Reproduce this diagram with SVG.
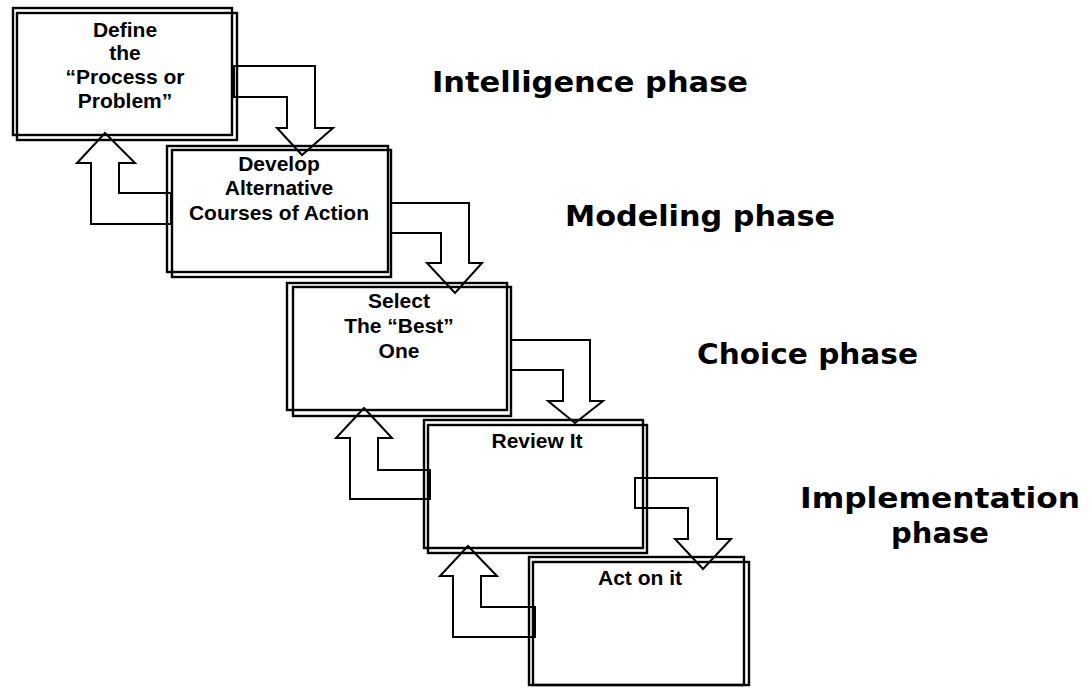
<svg xmlns="http://www.w3.org/2000/svg" width="1091" height="688" viewBox="0 0 1091 688">
<style>
.conn{fill:#fff;stroke:#000;stroke-width:2;stroke-linejoin:miter}
.frame{fill:none;stroke:#000;stroke-width:2.4}
.nt{font-family:"Liberation Sans",Arial,sans-serif;font-weight:bold;font-size:21px;text-anchor:middle;fill:#000}
.ph{font-family:"DejaVu Sans",Verdana,sans-serif;font-weight:bold;font-size:29px;fill:#000}
</style>
<rect width="1091" height="688" fill="#fff"/>
<g id="connectors">
<polygon class="conn" points="234,66 315,66 315,128 333,128 302,155 277,128 287,128 287,97 234,97"/>
<polygon class="conn" points="391,203 469,203 469,263 482,263 455,293 427,263 441,263 441,233 391,233"/>
<polygon class="conn" points="511,340 590,340 590,401 603,401 575,423 548,401 563,401 563,370 511,370"/>
<polygon class="conn" points="635,478 717,478 717,539 731,539 703,569 675,539 688,539 688,508 635,508"/>
<polygon class="conn" points="171,224 91,224 91,163 77,163 105,133 135,163 119,163 119,193 171,193"/>
<polygon class="conn" points="430,499 350,499 350,438 336,438 364,408 392,438 378,438 378,470 430,470"/>
<polygon class="conn" points="535,637 453,637 453,576 440,576 468,546 497,576 481,576 481,607 535,607"/>
</g>
<g id="node-define">
<rect class="frame" x="13" y="8" width="219" height="127"/>
<rect class="frame" x="17" y="13" width="220" height="127"/>
<text class="nt" x="125" y="37">Define</text>
<text class="nt" x="125" y="60">the</text>
<text class="nt" x="125" y="84">“Process or</text>
<text class="nt" x="125" y="108">Problem”</text>
</g>
<g id="node-develop">
<rect class="frame" x="167" y="146" width="221" height="126"/>
<rect class="frame" x="172" y="150" width="219" height="127"/>
<text class="nt" x="279" y="171">Develop</text>
<text class="nt" x="279" y="195">Alternative</text>
<text class="nt" x="279" y="220">Courses of Action</text>
</g>
<g id="node-select">
<rect class="frame" x="287" y="283" width="220" height="127"/>
<rect class="frame" x="293" y="287" width="218" height="129"/>
<text class="nt" x="399" y="308">Select</text>
<text class="nt" x="399" y="333">The “Best”</text>
<text class="nt" x="399" y="358">One</text>
</g>
<g id="node-review">
<rect class="frame" x="424" y="420" width="219" height="128"/>
<rect class="frame" x="428" y="425" width="219" height="128"/>
<text class="nt" x="537" y="448">Review It</text>
</g>
<g id="node-act">
<rect class="frame" x="529" y="557" width="215" height="128"/>
<rect class="frame" x="533" y="562" width="216" height="123"/>
<text class="nt" x="640" y="585">Act on it</text>
</g>
<g id="labels">
<text class="ph" x="432" y="92" textLength="316" lengthAdjust="spacingAndGlyphs">Intelligence phase</text>
<text class="ph" x="565" y="226" textLength="270" lengthAdjust="spacingAndGlyphs">Modeling phase</text>
<text class="ph" x="697" y="364" textLength="221" lengthAdjust="spacingAndGlyphs">Choice phase</text>
<text class="ph" x="800" y="508" textLength="280" lengthAdjust="spacingAndGlyphs">Implementation</text>
<text class="ph" x="940" y="543" text-anchor="middle">phase</text>
</g>
</svg>
